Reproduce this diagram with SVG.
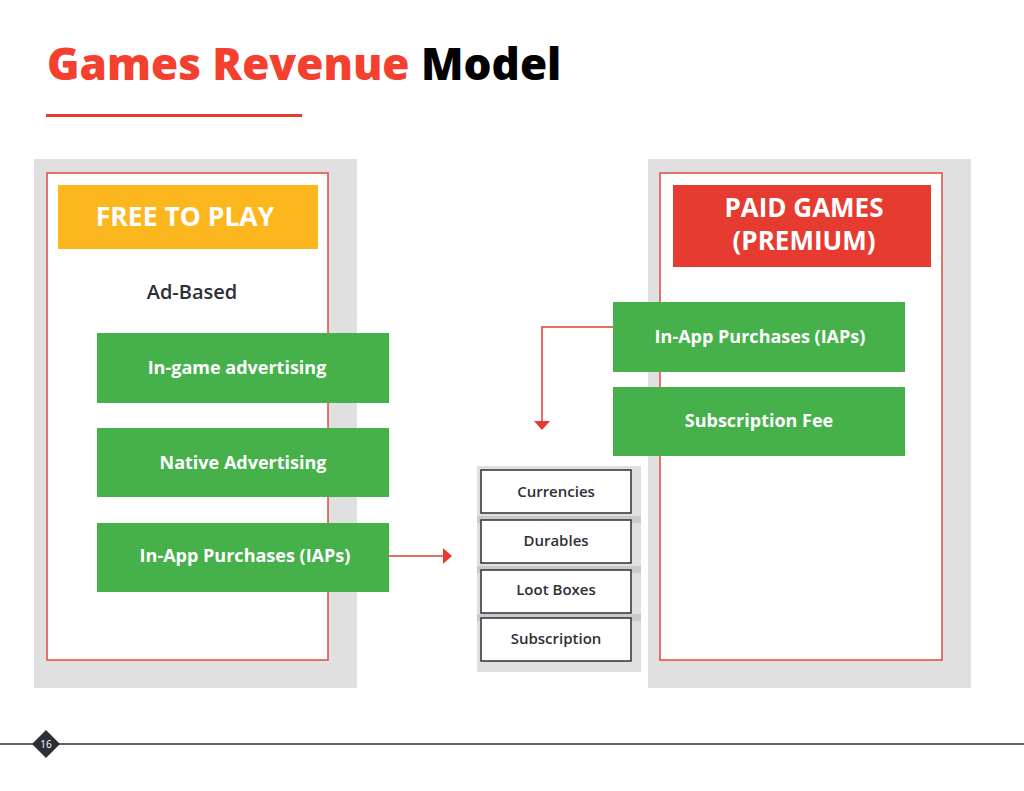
<svg xmlns="http://www.w3.org/2000/svg" width="1024" height="791" viewBox="0 0 1024 791">
<style>
text{font-family:"Open Sans","Liberation Sans",sans-serif;font-weight:700;text-anchor:middle}
.panel{fill:#e0e0e0}
.inner{fill:#fff;stroke:#e04a40;stroke-width:1.5}
.green{fill:#46b14b}
.gt{fill:#fff;font-size:18px}
.item{fill:#fff;stroke:#2d2f36;stroke-width:1.5}
.it{fill:#2d2f36;font-size:15px;font-weight:600}
.stripe{fill:#cacaca}
.conn{fill:none;stroke:#e53b30;stroke-width:1.5}
</style>
<defs>
<marker id="ah" viewBox="0 0 9 16" refX="0" refY="8" markerWidth="9" markerHeight="16" markerUnits="userSpaceOnUse" orient="auto"><path d="M0,0 L9,8 L0,16 Z" fill="#e53b30"/></marker>
</defs>
<rect width="1024" height="791" fill="#fff"/>
<g id="title">
<text x="47" y="80" style="text-anchor:start;font-size:44px;font-weight:800"><tspan fill="#f4412f">Games Revenue</tspan> <tspan fill="#000">Model</tspan></text>
<rect x="46" y="114" width="256" height="3" fill="#e53b30"/>
</g>
<g id="free-to-play">
<rect class="panel" x="34" y="159" width="323" height="529"/>
<rect class="inner" x="47" y="173" width="281" height="487"/>
<rect x="58" y="185" width="260" height="64" fill="#fdb71e"/>
<text x="185" y="226" fill="#fff" style="font-size:26.5px">FREE TO PLAY</text>
<text x="192" y="299" fill="#2d2f36" style="font-size:20px;font-weight:600">Ad-Based</text>
</g>
<g id="in-game-advertising"><rect class="green" x="97" y="333" width="292" height="70"/><text class="gt" x="237" y="374">In-game advertising</text></g>
<g id="native-advertising"><rect class="green" x="97" y="428" width="292" height="69"/><text class="gt" x="243" y="469">Native Advertising</text></g>
<g id="iap-left"><rect class="green" x="97" y="523" width="292" height="69"/><text class="gt" x="245" y="562">In-App Purchases (IAPs)</text></g>
<g id="paid-games">
<rect class="panel" x="648" y="159" width="323" height="529"/>
<rect class="inner" x="660" y="173" width="282" height="487"/>
<rect x="673" y="185" width="258" height="82" fill="#e53b30"/>
<text x="804" y="217" fill="#fff" style="font-size:26px">PAID GAMES</text>
<text x="804" y="250" fill="#fff" style="font-size:26px">(PREMIUM)</text>
</g>
<g id="iap-right"><rect class="green" x="613" y="302" width="292" height="70"/><text class="gt" x="760" y="343">In-App Purchases (IAPs)</text></g>
<g id="subscription-fee"><rect class="green" x="613" y="387" width="292" height="69"/><text class="gt" x="759" y="427">Subscription Fee</text></g>
<g id="iap-types">
<rect class="panel" x="477" y="466" width="164" height="206"/>
<rect class="stripe" x="477" y="516" width="164" height="7"/>
<rect class="stripe" x="477" y="566" width="164" height="7"/>
<rect class="stripe" x="477" y="614" width="164" height="7"/>
<g id="currencies"><rect class="item" x="481" y="470" width="150" height="43"/><text class="it" x="556" y="497">Currencies</text></g>
<g id="durables"><rect class="item" x="481" y="520" width="150" height="43"/><text class="it" x="556" y="546">Durables</text></g>
<g id="loot-boxes"><rect class="item" x="481" y="570" width="150" height="43"/><text class="it" x="556" y="595">Loot Boxes</text></g>
<g id="subscription"><rect class="item" x="481" y="618" width="150" height="43"/><text class="it" x="556" y="644">Subscription</text></g>
</g>
<g id="connectors">
<path class="conn" d="M613,327 H542 V421" marker-end="url(#ah)"/>
<path class="conn" d="M389,556 H443" marker-end="url(#ah)"/>
</g>
<g id="footer">
<line x1="0" y1="744" x2="1024" y2="744" stroke="#2d2f36" stroke-width="1.5"/>
<path d="M46,730 L60,744 L46,758 L32,744 Z" fill="#2d2f36"/>
<text x="46" y="748" fill="#fff" style="font-size:10px;font-weight:400">16</text>
</g>
</svg>
